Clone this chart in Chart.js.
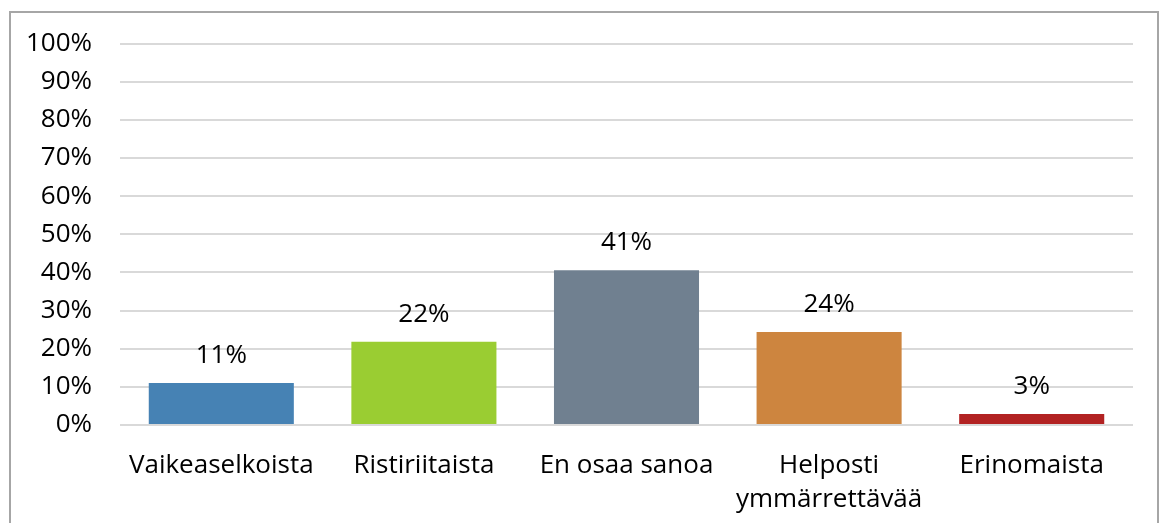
<!DOCTYPE html>
<html>
<head>
<meta charset="utf-8">
<script src="https://cdn.jsdelivr.net/npm/chart.js@4"></script>
<style>
  html, body { margin: 0; padding: 0; background: #fff; overflow: hidden; }
  #wrap { position: relative; width: 1167px; height: 523px; }
  #frame { position: absolute; left: 9px; top: 11px; width: 1146px; height: 540px; border: 2px solid #a6a6a6; pointer-events: none; }
  canvas { position: absolute; left: 0; top: 0; }
</style>
</head>
<body>
<div id="wrap">
  <canvas id="c" width="1167" height="523"></canvas>
  <div id="frame"></div>
</div>
<script>
const categories = ['Vaikeaselkoista', 'Ristiriitaista', 'En osaa sanoa', ['Helposti', 'ymmärrettävää'], 'Erinomaista'];
const values = [11.0, 21.8, 40.6, 24.4, 2.9];
const valueLabels = ['11%', '22%', '41%', '24%', '3%'];
const barColors = ['#4682B4', '#9ACD32', '#708090', '#CD853F', '#B22222'];
const yTicks = [0, 10, 20, 30, 40, 50, 60, 70, 80, 90, 100];

const FONT = "'Open Sans', sans-serif";

const dataLabelPlugin = {
  id: 'dataLabels',
  afterDatasetsDraw(chart) {
    const ctx = chart.ctx;
    const meta = chart.getDatasetMeta(0);
    ctx.save();
    ctx.font = "26px " + FONT;
    ctx.fillStyle = '#000';
    ctx.textAlign = 'center';
    ctx.textBaseline = 'alphabetic';
    meta.data.forEach((bar, i) => {
      ctx.fillText(valueLabels[i], bar.x, bar.y - 20);
    });
    ctx.restore();
  }
};

new Chart(document.getElementById('c'), {
  type: 'bar',
  data: {
    labels: categories,
    datasets: [{
      data: values,
      backgroundColor: barColors,
      borderWidth: 0,
      barPercentage: 0.716,
      categoryPercentage: 1.0
    }]
  },
  options: {
    responsive: false,
    animation: false,
    devicePixelRatio: 1,
    layout: { padding: { left: 0, right: 34, top: 43, bottom: 0 } },
    plugins: { legend: { display: false }, tooltip: { enabled: false } },
    scales: {
      x: {
        grid: { display: false },
        border: { display: false },
        ticks: {
          color: '#000',
          font: { family: FONT, size: 26, lineHeight: 1.31 },
          padding: 16,
          maxRotation: 0,
          autoSkip: false
        },
        afterFit(scale) { scale.height = 98; }
      },
      y: {
        min: 0,
        max: 100,
        afterBuildTicks(scale) { scale.ticks = yTicks.map(v => ({ value: v })); },
        grid: { color: '#d9d9d9', lineWidth: 2, drawTicks: false },
        border: { display: false },
        ticks: {
          color: '#000',
          font: { family: FONT, size: 26 },
          padding: 28,
          callback: (v) => v + '%'
        },
        afterFit(scale) { scale.width = 120; }
      }
    }
  },
  plugins: [dataLabelPlugin]
});
</script>
</body>
</html>
